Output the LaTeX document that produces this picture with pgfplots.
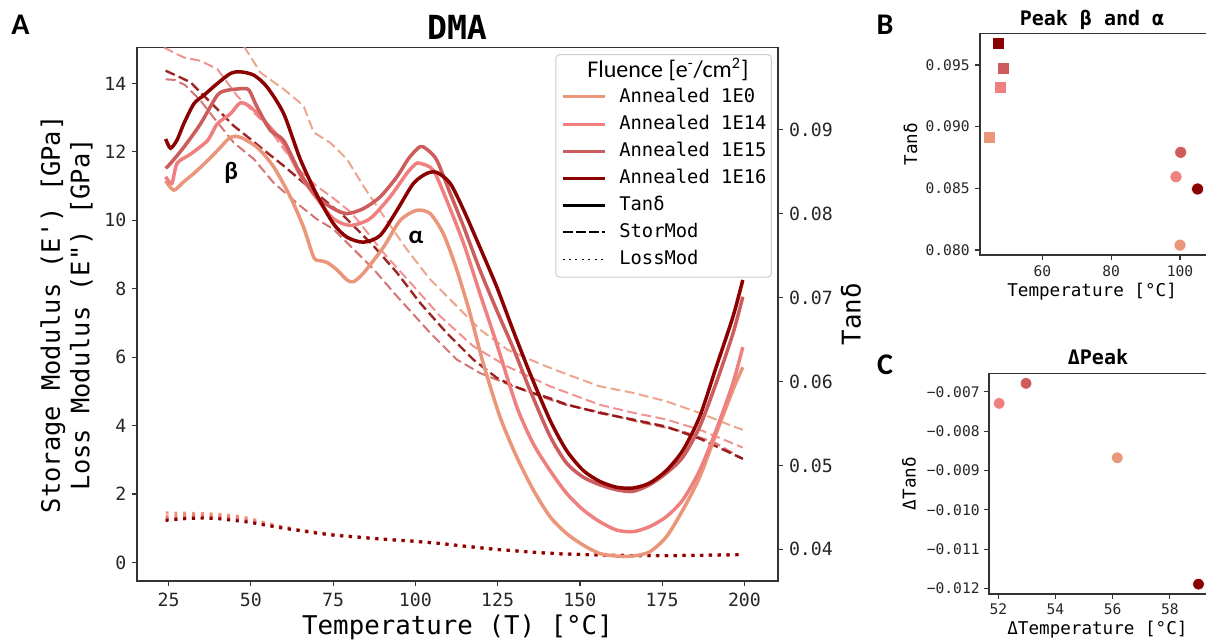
\documentclass[border=0pt]{standalone}
\usepackage{pgfplots}
\pgfplotsset{compat=1.18}
\usepackage{fontspec}
\setmonofont{DejaVu Sans Mono}
\renewcommand{\familydefault}{\ttdefault}
\newfontfamily\calib{Carlito}
\definecolor{cA}{HTML}{E9967A}
\definecolor{cB}{HTML}{F08080}
\definecolor{cC}{HTML}{CD5C5C}
\definecolor{cD}{HTML}{8B0000}
\definecolor{spine}{HTML}{333333}
\pgfplotsset{
  base/.style={scale only axis, anchor=south west, tick align=outside, major tick length=2.5pt,
    axis line style={spine, line width=0.7pt}, every tick/.style={spine, line width=0.6pt},
    /pgf/number format/assume math mode=true},
  dashE/.style={line width=1pt, dash pattern=on 5pt off 2.2pt, opacity=0.85},
  dotL/.style={line width=1.5pt, dash pattern=on 1.5pt off 2.9pt},
  tanL/.style={line width=1.75pt, smooth, tension=0.45},
}
\begin{document}
\begin{tikzpicture}
\useasboundingbox (0,0) rectangle (603pt,320pt);
\clip (0,0) rectangle (603pt,320pt);
% ---------------- main axis: moduli ----------------
\begin{axis}[base, at={(68.5pt,29.5pt)}, width=320.5pt, height=266.75pt,
  xmin=15.4, xmax=210.2, ymin=-0.54, ymax=15.05,
  xtick={25,50,...,200}, ytick={0,2,...,14}, tick pos=left,
  tick label style={font=\fontsize{9.1}{11}\selectfont, text=black!85},
  xticklabel style={inner sep=0pt, anchor=north, yshift=-3.5pt},
  yticklabel style={inner sep=0pt, anchor=east, xshift=-2.6pt},
  xlabel={Temperature (T) [°C]},
  xlabel style={font=\fontsize{12.9}{14}\selectfont, at={(axis description cs:0.5,0)}, anchor=base, yshift=-27pt},
  ylabel={Storage Modulus (E') [GPa]\\Loss Modulus (E") [GPa]},
  ylabel style={font=\fontsize{12.7}{14.75}\selectfont, align=center, at={(axis description cs:-0.110,0.5)}, anchor=center},
]
% StorMod (dashed)
\addplot[cA, dashE] coordinates {(24.1,16.9)(30,16.6)(35,16.3)(42,15.7)(47.8,15.1)(52.9,14.32)(60,13.83)(66,13.35)(69.1,12.57)(74.1,12.27)(79.2,11.79)(84.2,11.0)(90.3,10.13)(97.4,9.15)(104.5,8.27)(112.6,7.49)(119.6,6.81)(128,6.22)(138,5.80)(146,5.50)(156,5.15)(166,4.96)(176.3,4.71)(186.4,4.37)(196.5,3.98)(199.5,3.88)};
\addplot[cB, dashE] coordinates {(23.6,15.05)(26.6,14.90)(29.6,14.76)(34.7,14.66)(39.8,14.42)(42.8,14.03)(45.8,13.64)(49.9,13.25)(54.9,12.76)(60,12.08)(65,11.45)(70,11.0)(75,10.65)(80.2,10.25)(82.2,10.03)(90.3,9.05)(99.4,8.08)(107.5,7.20)(117.6,6.32)(127.7,5.74)(140.9,5.15)(156,4.61)(166,4.38)(176.3,4.18)(186.4,3.88)(199.5,3.36)};
\addplot[cC, dashE] coordinates {(24.1,14.12)(27,14.10)(30,13.95)(34.7,13.5)(38.7,13.0)(44.8,12.27)(50.9,11.79)(56.9,11.10)(65,10.42)(70.1,10.03)(75.1,9.74)(79.2,9.35)(87.3,8.57)(94.4,7.78)(104.5,6.71)(112.6,5.93)(119.6,5.54)(129.7,5.15)(140.9,4.76)(145.9,4.60)(156,4.40)(166,4.15)(181.3,3.83)(191,3.50)(199.5,3.03)};
\addplot[cD, dashE, line width=1.2pt] coordinates {(24.1,14.37)(27.6,14.22)(31.7,14.03)(35.7,13.64)(39.8,13.25)(44.8,12.76)(49.9,12.37)(54.9,11.98)(60,11.59)(66,11.10)(72.1,10.61)(78.2,10.13)(87.3,9.25)(94.4,8.47)(101.4,7.59)(109.5,6.71)(117.6,5.93)(124.7,5.40)(130,5.15)(135.8,4.95)(140.9,4.80)(145.9,4.62)(156,4.37)(166,4.18)(176.3,3.97)(186.4,3.62)(199.5,3.03)};
% LossMod (dotted)
\addplot[cA, dotL] coordinates {(24.1,1.45)(30,1.44)(35,1.43)(40,1.41)(45,1.37)(50,1.28)(55,1.14)(60,1.04)(65,0.95)(70,0.88)(75,0.82)(80,0.77)(90,0.69)(100,0.62)(107,0.56)(115.6,0.47)(125,0.38)(135.8,0.30)(145,0.25)(156,0.22)(166,0.20)(176,0.20)(186,0.21)(199.5,0.23)};
\addplot[cB, dotL] coordinates {(24.1,1.34)(30,1.37)(35,1.37)(40,1.35)(45,1.31)(50,1.23)(55,1.11)(60,1.02)(65,0.94)(70,0.87)(75,0.81)(80,0.76)(90,0.68)(100,0.62)(107,0.56)(115.6,0.47)(125,0.38)(135.8,0.30)(145,0.25)(156,0.22)(166,0.20)(176,0.20)(186,0.21)(199.5,0.23)};
\addplot[cC, dotL] coordinates {(24.1,1.26)(30,1.30)(34.7,1.32)(40,1.30)(44.8,1.26)(49.9,1.19)(55,1.09)(60,1.01)(65,0.93)(70.1,0.86)(75,0.80)(80.2,0.76)(90.3,0.68)(100,0.62)(107,0.56)(115.6,0.47)(125,0.38)(135.8,0.30)(145,0.25)(156,0.22)(166,0.20)(176.3,0.20)(186,0.21)(199.5,0.23)};
\addplot[cD, dotL] coordinates {(24.1,1.23)(30,1.28)(34.7,1.30)(40,1.28)(44.8,1.23)(49.9,1.17)(55,1.08)(60,1.00)(65,0.93)(70.1,0.86)(75,0.80)(80.2,0.76)(90.3,0.68)(100,0.62)(107,0.56)(115.6,0.47)(125,0.38)(135.8,0.30)(145,0.25)(156,0.22)(166,0.20)(176.3,0.20)(186,0.21)(199.5,0.23)};
\node[font=\calib\bfseries\fontsize{12.5}{14}\selectfont] at (axis cs:44,11.4) {β};
\node[font=\calib\bfseries\fontsize{12.5}{14}\selectfont] at (axis cs:100.2,9.5) {α};
\end{axis}
% ---------------- twin axis: tan delta ----------------
\begin{axis}[base, at={(68.5pt,29.5pt)}, width=320.5pt, height=266.75pt,
  xmin=15.4, xmax=210.2, ymin=0.036226, ymax=0.0998,
  axis y line*=right, axis x line=none,
  ytick={0.04,0.05,0.06,0.07,0.08,0.09}, scaled y ticks=false,
  tick label style={font=\fontsize{9.1}{11}\selectfont, text=black!85},
  yticklabel style={inner sep=0pt, anchor=west, xshift=2.8pt, /pgf/number format/fixed, /pgf/number format/precision=2, /pgf/number format/fixed zerofill},
  ylabel={Tanδ},
  ylabel style={font=\fontsize{12.9}{14}\selectfont, at={(axis description cs:1.1139,0.5)}, anchor=center},
  legend style={at={(0.9906,0.9878)}, anchor=north east, draw=black!20, line width=0.5pt, rounded corners=2pt,
    fill=white, fill opacity=0.8, text opacity=1, font=\fontsize{9.4}{11}\selectfont,
    inner xsep=2.5pt, inner ysep=4pt, row sep=3.85pt,
    nodes={inner sep=0pt, text height=7.5pt, text depth=2.2pt},
    /tikz/every odd column/.append style={column sep=6.5pt}},
  legend cell align=left,
  legend image code/.code={\draw[#1] (0pt,0pt) -- (21pt,0pt);},
]
\addlegendimage{empty legend}
\addlegendentry[text depth=1pt]{\hspace*{-16pt}{\calib\fontsize{12}{13}\selectfont Fluence [e\textsuperscript{-}/cm\textsuperscript{2}]}}
\addlegendimage{cA, line width=1.5pt}\addlegendentry{Annealed 1E0}
\addlegendimage{cB, line width=1.5pt}\addlegendentry{Annealed 1E14}
\addlegendimage{cC, line width=1.5pt}\addlegendentry{Annealed 1E15}
\addlegendimage{cD, line width=1.5pt}\addlegendentry{Annealed 1E16}
\addlegendimage{black, line width=1.75pt}\addlegendentry{Tanδ}
\addlegendimage{black, line width=1pt, dash pattern=on 5pt off 1.5pt}\addlegendentry{StorMod}
\addlegendimage{black, line width=0.9pt, dash pattern=on 1pt off 2.2pt}\addlegendentry{LossMod}
\addplot[cA, tanL, forget plot] coordinates {(24.1,0.0839)(26.6,0.0828)(29.6,0.0838)(32.7,0.0848)(36.8,0.0863)(39.8,0.0875)(43.8,0.0891)(46.8,0.0891)(51.9,0.0879)(56.9,0.0856)(62,0.0820)(66,0.0784)(69.1,0.0748)(71,0.0744)(73.1,0.0742)(76.2,0.0733)(79.2,0.0721)(81.2,0.0719)(84.2,0.0729)(90.3,0.0760)(95.4,0.0792)(100.4,0.0804)(104.5,0.0800)(108.5,0.0776)(112.6,0.0733)(116.6,0.0681)(120.6,0.0622)(125.7,0.0558)(130.8,0.0510)(135.8,0.0471)(140.9,0.0439)(145.9,0.0419)(151,0.0405)(156,0.0395)(161.1,0.0392)(166.1,0.0392)(171.2,0.0397)(176.3,0.0415)(181.3,0.0447)(186.4,0.0486)(191.4,0.0538)(196.5,0.0590)(199.5,0.0617)};
\addplot[cB, tanL, forget plot] coordinates {(24.1,0.0844)(26,0.0836)(27.6,0.0860)(31.7,0.0871)(36.8,0.0887)(39.8,0.0907)(43.8,0.0919)(46.8,0.0932)(49.9,0.0927)(54.9,0.0907)(60,0.0883)(65,0.0846)(70.1,0.0818)(75.1,0.0794)(80.2,0.0786)(86.2,0.0794)(92.3,0.0820)(97.4,0.0848)(100,0.0859)(101.4,0.0860)(105.4,0.0852)(109.5,0.0816)(114.7,0.0764)(119.6,0.0705)(124.7,0.0645)(130.8,0.0570)(135.8,0.0526)(140.9,0.0494)(145.9,0.0467)(151,0.0447)(156,0.0433)(161.1,0.0423)(166.1,0.0421)(171.2,0.0427)(176.3,0.0439)(181.3,0.0459)(186.4,0.0494)(191.4,0.0542)(196.5,0.0598)(199.5,0.0641)};
\addplot[cC, tanL, forget plot] coordinates {(24.1,0.0854)(25.6,0.0860)(29.6,0.0879)(34.7,0.0907)(39.8,0.0941)(42.8,0.0947)(47.8,0.0949)(49.5,0.0947)(51.9,0.0927)(56,0.0899)(60,0.0887)(65,0.0848)(70.1,0.0820)(75.1,0.0806)(79.2,0.0800)(84.2,0.0806)(89.3,0.0820)(94.4,0.0844)(98,0.0866)(101.5,0.0880)(104,0.0875)(106.6,0.0863)(110.6,0.0824)(114.7,0.0784)(119.6,0.0733)(124.7,0.0685)(129.7,0.0640)(134.8,0.0590)(140.9,0.0535)(145.9,0.0503)(151,0.0486)(156,0.0477)(161.1,0.0471)(166.1,0.0469)(171.2,0.0477)(176.3,0.0491)(181.3,0.0510)(186.4,0.0546)(191.4,0.0598)(196.5,0.0657)(199.5,0.0701)};
\addplot[cD, tanL, forget plot] coordinates {(24.1,0.0889)(25.6,0.0878)(27.6,0.0888)(29.6,0.0907)(32.7,0.0931)(35.7,0.0941)(39.8,0.0955)(43.8,0.0967)(46.8,0.0969)(50.9,0.0965)(54.9,0.0951)(60,0.0919)(65,0.0865)(70.1,0.0822)(75.1,0.0788)(79.2,0.0772)(84.2,0.0766)(89.3,0.0774)(94.4,0.0804)(99.4,0.0836)(103.5,0.0848)(106.6,0.0849)(110.6,0.0836)(114.7,0.0804)(119.6,0.0760)(124.7,0.0713)(129.7,0.0661)(134.8,0.0610)(140.9,0.0554)(145.9,0.0518)(151,0.0494)(156,0.0481)(161.1,0.0474)(166.1,0.0473)(171.2,0.0479)(176.3,0.0494)(181.3,0.0518)(186.4,0.0558)(191.4,0.0617)(196.5,0.0677)(199.5,0.0721)};
\end{axis}
% ---------------- panel B ----------------
\begin{axis}[base, at={(490pt,192.5pt)}, width=117pt, height=110.85pt,
  xmin=41.9, xmax=109.87, ymin=0.0796, ymax=0.09757, tick pos=left,
  xtick={60,80,100}, ytick={0.080,0.085,0.090,0.095}, yticklabels={0.080,0.085,0.090,0.095},
  scaled y ticks=false,
  tick label style={font=\fontsize{7.3}{9}\selectfont, text=black!85},
  xticklabel style={inner sep=0pt, anchor=north, yshift=-2.5pt},
  yticklabel style={inner sep=0pt, anchor=east, xshift=-2.5pt},
  xlabel={Temperature [°C]},
  xlabel style={font=\fontsize{8.8}{10}\selectfont, at={(axis description cs:0.479,0)}, anchor=base, yshift=-20.85pt},
  ylabel={Tanδ},
  ylabel style={font=\fontsize{8.8}{10}\selectfont, at={(axis description cs:-0.297,0.5)}, anchor=center},
  mark options={draw=white, line width=0.3pt},
]
\addplot[only marks, mark=square*, mark size=3pt, cA] coordinates {(44.61,0.08914)};
\addplot[only marks, mark=square*, mark size=3pt, cB] coordinates {(47.92,0.09319)};
\addplot[only marks, mark=square*, mark size=3pt, cC] coordinates {(48.67,0.09473)};
\addplot[only marks, mark=square*, mark size=3pt, cD] coordinates {(47.22,0.09676)};
\addplot[only marks, mark=*, mark size=3pt, cA] coordinates {(100.0,0.0804)};
\addplot[only marks, mark=*, mark size=3pt, cB] coordinates {(98.83,0.08594)};
\addplot[only marks, mark=*, mark size=3pt, cC] coordinates {(100.2,0.08792)};
\addplot[only marks, mark=*, mark size=3pt, cD] coordinates {(105.1,0.08495)};
\end{axis}
% ---------------- panel C ----------------
\begin{axis}[base, at={(494.5pt,23pt)}, width=109.75pt, height=110.35pt,
  xmin=51.675, xmax=59.35, ymin=-0.01214, ymax=-0.00653, tick pos=left,
  xtick={52,54,56,58},
  ytick={-0.012,-0.011,-0.010,-0.009,-0.008,-0.007},
  yticklabels={−0.012,−0.011,−0.010,−0.009,−0.008,−0.007},
  scaled y ticks=false,
  tick label style={font=\fontsize{7.3}{9}\selectfont, text=black!85},
  xticklabel style={inner sep=0pt, anchor=north, yshift=-2pt},
  yticklabel style={inner sep=0pt, anchor=east, xshift=-2pt},
  xlabel={ΔTemperature [°C]},
  xlabel style={font=\fontsize{8.8}{10}\selectfont, at={(axis description cs:0.494,0)}, anchor=base, yshift=-20.5pt},
  ylabel={ΔTanδ},
  ylabel style={font=\fontsize{8.8}{10}\selectfont, at={(axis description cs:-0.364,0.5)}, anchor=center},
  mark options={draw=white, line width=0.3pt},
]
\addplot[only marks, mark=*, mark size=2.9pt, cB] coordinates {(52.03,-0.007295)};
\addplot[only marks, mark=*, mark size=2.9pt, cC] coordinates {(52.97,-0.006786)};
\addplot[only marks, mark=*, mark size=2.9pt, cA] coordinates {(56.16,-0.008678)};
\addplot[only marks, mark=*, mark size=2.9pt, cD] coordinates {(59.0,-0.011889)};
\end{axis}
% titles
\node[anchor=base, font=\bfseries\fontsize{16.6}{18}\selectfont] at (228.5pt,300pt) {DMA};
\node[anchor=base, font=\bfseries\fontsize{10}{12}\selectfont] at (546pt,307pt) {Peak β and α};
\node[anchor=base, font=\bfseries\fontsize{10}{12}\selectfont] at (549pt,137.5pt) {ΔPeak};
% panel letters
\node[font=\calib\bfseries\fontsize{15}{17}\selectfont] at (10.25pt,307.5pt) {A};
\node[font=\calib\bfseries\fontsize{15}{17}\selectfont] at (442.5pt,307.5pt) {B};
\node[font=\calib\bfseries\fontsize{15}{17}\selectfont] at (442.5pt,137.5pt) {C};
\end{tikzpicture}
\end{document}
